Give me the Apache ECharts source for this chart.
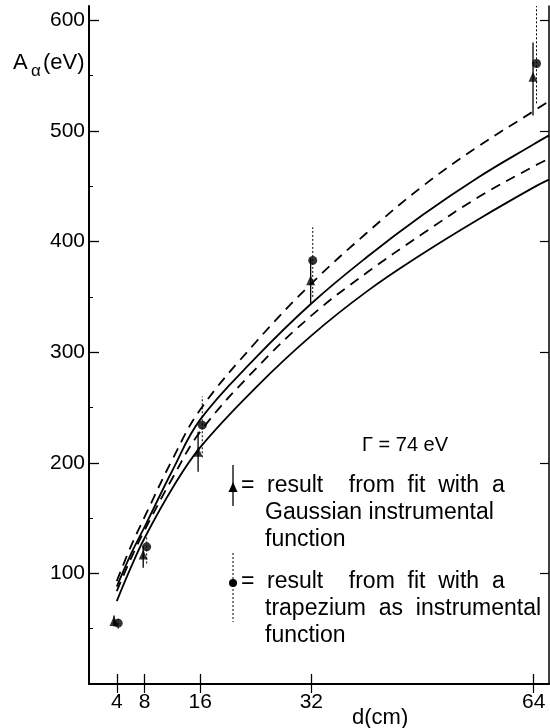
<!DOCTYPE html>
<html>
<head>
<meta charset="utf-8">
<script src="https://cdn.jsdelivr.net/npm/echarts@6/dist/echarts.min.js"></script>
<style>html,body{margin:0;padding:0;background:#fff;}#c{width:550px;height:728px;}</style>
</head>
<body>
<div id="c"></div>
<script>
// ---- data ----
const xTicks = [4, 8, 16, 32, 64];
const yTicks = [100, 200, 300, 400, 500, 600];
const yMinorTicks = [50, 150, 250, 350, 450, 550];

const curveD       = [4, 6, 8, 12, 16, 24, 32, 40, 48, 56, 64, 66.2];
const upperDashed  = [93, 124, 151, 203, 248, 309, 362, 408, 450, 486, 518, 527];
const upperSolid   = [88, 117, 142, 193, 239, 295, 344, 386, 424, 458, 488, 496];
const lowerDashed  = [84, 113, 139, 186, 228, 285, 333, 372, 407, 440, 468, 475];
const lowerSolid   = [75, 105, 132, 177, 214, 268, 315, 355, 389, 420, 449, 456];

// Gaussian instrumental function results (triangles, solid error bars)
const triD  = [3.6, 7.8, 15.7, 31.9, 63.9];
const triA  = [57, 117, 210, 365, 549];
const triLo = [52, 105, 192, 344, 514];
const triHi = [62, 125, 228, 385, 580];

// trapezium instrumental function results (circles, dotted error bars)
const cirD  = [4.2, 8.3, 16.3, 32.2, 64.4];
const cirA  = [55, 124, 234, 383, 561];
const cirLo = [50, 109, 205, 350, 525];
const cirHi = [60, 133, 260, 413, 613];

const FONT = 'Liberation Sans';
const X_MAX = 66.2, Y_MAX = 613;

function pairs(xs, ys) { return xs.map((x, i) => [x, ys[i]]); }
function bars(xs, lo, hi) { return xs.map((x, i) => [x, lo[i], hi[i]]); }

function errRender(dotted) {
  return function (params, api) {
    const x = api.value(0), lo = api.value(1), hi = api.value(2);
    const p1 = api.coord([x, lo]), p2 = api.coord([x, hi]);
    return {
      type: 'line',
      shape: { x1: p1[0], y1: p1[1], x2: p2[0], y2: p2[1] },
      style: { stroke: '#000', lineWidth: dotted ? 1 : 1.3, lineDash: dotted ? [2, 2] : null }
    };
  };
}

function curve(name, ys, dashed) {
  return {
    type: 'line', name: name, data: pairs(curveD, ys),
    smooth: 0.4, showSymbol: false, silent: true,
    lineStyle: { color: '#000', width: 1.8, type: dashed ? [10, 7] : 'solid' },
    z: 2
  };
}

function txt(left, top, text, size) {
  return { type: 'text', left: left, top: top, style: { text: text, font: size + 'px "' + FONT + '"', fill: '#000' } };
}

const chart = echarts.init(document.getElementById('c'), null, { renderer: 'canvas' });
const axisLineBold = { show: true, lineStyle: { color: '#000', width: 2 } };
const axisLineThin = { show: true, lineStyle: { color: '#000', width: 1.5 } };

chart.setOption({
  animation: false,
  backgroundColor: '#fff',
  grid: { left: 89, right: 1, top: 6, bottom: 44 },
  xAxis: [
    {
      type: 'value', min: 0, max: X_MAX, position: 'bottom',
      axisLine: axisLineBold,
      axisTick: { show: true, inside: true, length: 10, customValues: xTicks, lineStyle: { color: '#000', width: 1.3 } },
      axisLabel: { show: true, customValues: xTicks, color: '#000', fontFamily: FONT, fontSize: 21, margin: 8 },
      splitLine: { show: false }
    },
    {
      type: 'value', min: 0, max: X_MAX, position: 'top',
      axisLine: axisLineThin,
      axisTick: { show: true, inside: true, length: 9, customValues: xTicks, lineStyle: { color: '#000', width: 1.2 } },
      axisLabel: { show: false },
      splitLine: { show: false }
    }
  ],
  yAxis: [
    {
      type: 'value', min: 0, max: Y_MAX, position: 'left',
      axisLine: axisLineBold,
      axisTick: { show: true, inside: true, length: 10, customValues: yTicks, lineStyle: { color: '#000', width: 1.3 } },
      axisLabel: { show: true, customValues: yTicks, color: '#000', fontFamily: FONT, fontSize: 21, margin: 4 },
      splitLine: { show: false }
    },
    {
      type: 'value', min: 0, max: Y_MAX, position: 'left',
      axisLine: { show: false },
      axisTick: { show: true, inside: true, length: 4, customValues: yMinorTicks, lineStyle: { color: '#000', width: 1 } },
      axisLabel: { show: false },
      splitLine: { show: false }
    },
    {
      type: 'value', min: 0, max: Y_MAX, position: 'right',
      axisLine: axisLineThin,
      axisTick: { show: true, inside: true, length: 9, customValues: yTicks, lineStyle: { color: '#000', width: 1.2 } },
      axisLabel: { show: false },
      splitLine: { show: false }
    }
  ],
  series: [
    curve('upper dashed', upperDashed, true),
    curve('upper solid', upperSolid, false),
    curve('lower dashed', lowerDashed, true),
    curve('lower solid', lowerSolid, false),
    {
      type: 'custom', name: 'Gaussian error', data: bars(triD, triLo, triHi),
      renderItem: errRender(false), silent: true, z: 3,
      encode: { x: 0, y: [1, 2] }
    },
    {
      type: 'custom', name: 'trapezium error', data: bars(cirD, cirLo, cirHi),
      renderItem: errRender(true), silent: true, z: 3,
      encode: { x: 0, y: [1, 2] }
    },
    {
      type: 'scatter', name: 'Gaussian', data: pairs(triD, triA),
      symbol: 'triangle', symbolSize: [9, 10], itemStyle: { color: '#000' }, z: 4
    },
    {
      type: 'scatter', name: 'trapezium', data: pairs(cirD, cirA),
      symbol: 'circle', symbolSize: 9, itemStyle: { color: '#000' }, z: 4
    }
  ],
  graphic: [
    // axis titles
    txt(13, 52, 'A', 22),
    txt(31, 63, 'α', 17),
    txt(43, 52, '(eV)', 22),
    txt(352, 707, 'd(cm)', 22),
    // annotation
    txt(362, 435, 'Γ = 74 eV', 20),
    // legend markers
    { type: 'line', shape: { x1: 233, y1: 465, x2: 233, y2: 506 }, style: { stroke: '#000', lineWidth: 1.3 } },
    { type: 'polygon', shape: { points: [[233, 482], [228.5, 492], [237.5, 492]] }, style: { fill: '#000' } },
    { type: 'line', shape: { x1: 233, y1: 553, x2: 233, y2: 622 }, style: { stroke: '#000', lineWidth: 1, lineDash: [2, 2] } },
    { type: 'circle', shape: { cx: 233, cy: 583, r: 4 }, style: { fill: '#000' } },
    // legend texts
    txt(241, 474, '=', 23),
    txt(267, 474, 'result    from  fit  with  a', 23),
    txt(265, 501, 'Gaussian instrumental', 23),
    txt(265, 528, 'function', 23),
    txt(241, 570, '=', 23),
    txt(267, 570, 'result    from  fit  with  a', 23),
    txt(265, 597, 'trapezium  as  instrumental', 23),
    txt(265, 624, 'function', 23)
  ]
});
</script>
</body>
</html>
